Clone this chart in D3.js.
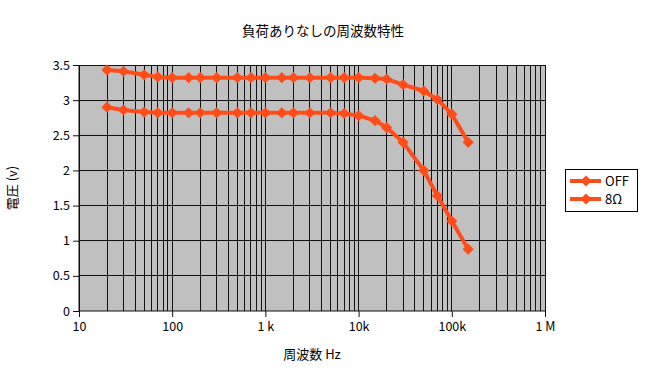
<!DOCTYPE html>
<html>
<head>
<meta charset="utf-8">
<script src="https://cdn.jsdelivr.net/npm/d3@7"></script>
<style>
  body { margin: 0; background: #fff; }
  svg text { font-family: "Noto Sans CJK JP", "DejaVu Sans", sans-serif; fill: #000; }
</style>
</head>
<body>
<svg id="chart" width="656" height="368"></svg>
<script>
const freqs = [20, 30, 50, 70, 100, 150, 200, 300, 500, 700, 1000, 1500, 2000, 3000,
  5000, 7000, 10000, 15000, 20000, 30000, 50000, 70000, 100000, 150000]
const offValues = [3.43, 3.41, 3.36, 3.33, 3.32, 3.32, 3.32, 3.32, 3.32, 3.32, 3.32, 3.32, 3.32, 3.32,
  3.32, 3.32, 3.32, 3.31, 3.30, 3.22, 3.13, 3.01, 2.80, 2.40]
const ohmValues = [2.90, 2.86, 2.83, 2.82, 2.82, 2.82, 2.82, 2.82, 2.82, 2.82, 2.82, 2.82, 2.82, 2.82,
  2.82, 2.81, 2.78, 2.71, 2.61, 2.40, 2.00, 1.64, 1.28, 0.88]
const seriesNames = ['OFF', '8Ω']
const xTicks = [10, 100, 1000, 10000, 100000, 1000000]
const xTickLabels = ['10', '100', '1 k', '10k', '100k', '1 M']
const yTicks = [0, 0.5, 1, 1.5, 2, 2.5, 3, 3.5]

const color = '#ff4d1a'
const svg = d3.select('#chart')
const pLeft = 79, pRight = 545, pTop = 65, pBottom = 311

const x = d3.scaleLog().domain([10, 1000000]).range([pLeft, pRight])
const y = d3.scaleLinear().domain([0, 3.5]).range([pBottom, pTop])

// plot background
svg.append('rect')
  .attr('x', pLeft).attr('y', pTop)
  .attr('width', pRight - pLeft).attr('height', pBottom - pTop)
  .attr('fill', '#c0c0c0')

// grid
const minor = []
for (let e = 1; e < 6; e++) {
  for (let m = 1; m < 10; m++) minor.push(m * Math.pow(10, e))
}
minor.push(1000000)
svg.append('g').selectAll('line').data(minor).enter().append('line')
  .attr('x1', d => x(d)).attr('x2', d => x(d))
  .attr('y1', pTop).attr('y2', pBottom)
  .attr('stroke', '#111').attr('stroke-width', 1)
  .attr('shape-rendering', 'crispEdges')

svg.append('g').selectAll('line').data(yTicks.slice(1)).enter().append('line')
  .attr('x1', pLeft).attr('x2', pRight)
  .attr('y1', d => y(d)).attr('y2', d => y(d))
  .attr('stroke', '#111').attr('stroke-width', 1)
  .attr('shape-rendering', 'crispEdges')

// axes
const yAxis = d3.axisLeft(y).tickValues(yTicks).tickSize(6).tickPadding(3)
  .tickFormat(d3.format('~g'))
const gy = svg.append('g').attr('transform', `translate(${pLeft},0)`).call(yAxis)
const xAxis = d3.axisBottom(x).tickValues(xTicks).tickSize(6).tickPadding(5)
  .tickFormat((d, i) => xTickLabels[i])
const gx = svg.append('g').attr('transform', `translate(0,${pBottom})`).call(xAxis)
;[gx, gy].forEach(g => {
  g.select('.domain').attr('stroke', '#111')
  g.selectAll('.tick line').attr('stroke', '#111')
  g.selectAll('.tick text').style('font-size', '12.5px')
})
gx.select('.domain').attr('d', `M${pLeft},0H${pRight}`)
gy.select('.domain').attr('d', `M0,${pBottom}V${pTop}`)

// series
const series = [offValues, ohmValues]
const line = d3.line().x((d, i) => x(freqs[i])).y(d => y(d))
const diamond = d3.symbol().type(d3.symbolDiamond2).size(80)

series.forEach(vals => {
  svg.append('path').datum(vals)
    .attr('d', line)
    .attr('fill', 'none').attr('stroke', color).attr('stroke-width', 4)
    .attr('stroke-linejoin', 'round')
  svg.append('g').selectAll('path').data(vals).enter().append('path')
    .attr('d', diamond)
    .attr('transform', (d, i) => `translate(${x(freqs[i])},${y(d)})`)
    .attr('fill', color)
})

// titles
svg.append('text').attr('x', 323).attr('y', 36)
  .attr('text-anchor', 'middle').style('font-size', '13.5px')
  .text('負荷ありなしの周波数特性')
svg.append('text').attr('x', 312).attr('y', 359)
  .attr('text-anchor', 'middle').style('font-size', '13px')
  .text('周波数 Hz')
svg.append('text')
  .attr('transform', 'translate(17,188) rotate(-90)')
  .attr('text-anchor', 'middle').style('font-size', '13px')
  .text('電圧 (v)')

// legend
const legend = svg.append('g')
legend.append('rect').attr('x', 565.5).attr('y', 169.5).attr('width', 72).attr('height', 42)
  .attr('fill', '#fff').attr('stroke', '#000')
seriesNames.forEach((name, i) => {
  const ly = 181 + i * 18
  legend.append('line').attr('x1', 570).attr('x2', 601).attr('y1', ly).attr('y2', ly)
    .attr('stroke', color).attr('stroke-width', 4)
  legend.append('path').attr('d', diamond).attr('transform', `translate(586,${ly})`).attr('fill', color)
  legend.append('text').attr('x', 605).attr('y', ly + 5).style('font-size', '13px').text(name)
})
</script>
</body>
</html>
